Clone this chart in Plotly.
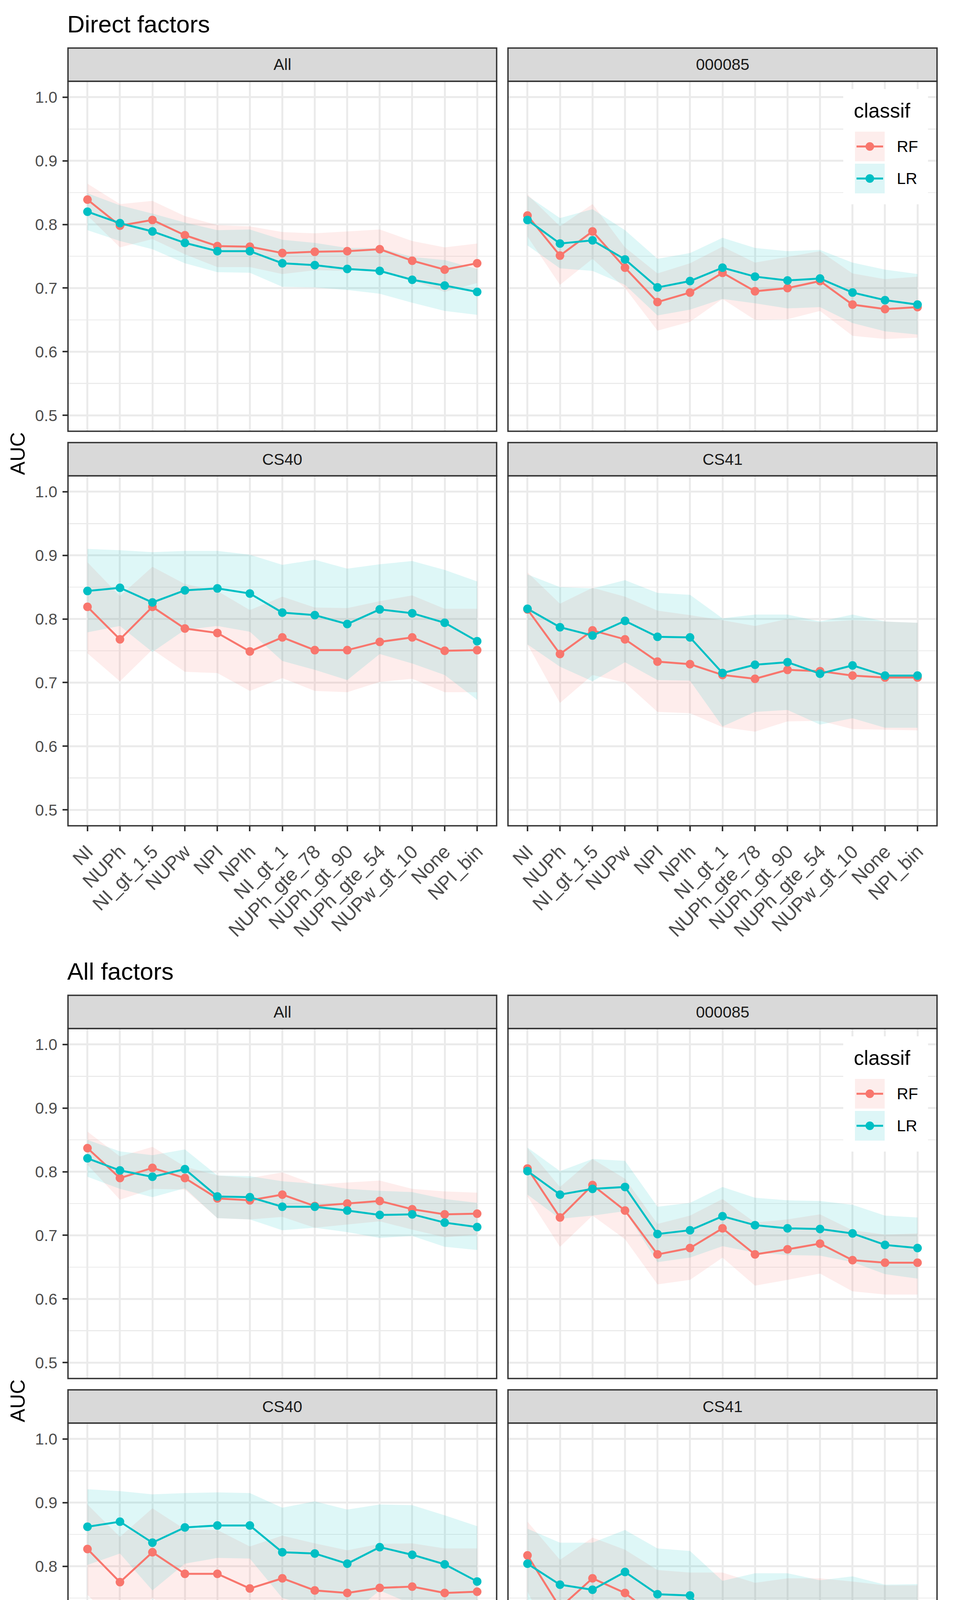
import plotly.graph_objects as go

W, H = 2444, 4858

categories = ["NI", "NUPh", "NI_gt_1.5", "NUPw", "NPI", "NPIh", "NI_gt_1",
              "NUPh_gte_78", "NUPh_gt_90", "NUPh_gte_54", "NUPw_gt_10", "None", "NPI_bin"]
classifiers = ["RF", "LR"]
facets = ["All", "000085", "CS40", "CS41"]
plot_titles = ["Direct factors", "All factors"]
y_ticks = [0.5, 0.6, 0.7, 0.8, 0.9, 1.0]
y_tick_labels = ["0.5", "0.6", "0.7", "0.8", "0.9", "1.0"]
y_minor = [0.55, 0.65, 0.75, 0.85, 0.95]

# ---------------- Direct factors ----------------
direct_all_rf    = [0.839, 0.798, 0.807, 0.783, 0.766, 0.765, 0.755, 0.757, 0.758, 0.761, 0.743, 0.729, 0.739]
direct_all_rf_hi = [0.864, 0.832, 0.837, 0.813, 0.799, 0.797, 0.788, 0.786, 0.789, 0.792, 0.774, 0.764, 0.770]
direct_all_rf_lo = [0.814, 0.764, 0.777, 0.753, 0.733, 0.733, 0.722, 0.728, 0.727, 0.730, 0.712, 0.694, 0.708]
direct_all_lr    = [0.820, 0.802, 0.789, 0.771, 0.758, 0.758, 0.739, 0.736, 0.730, 0.727, 0.713, 0.704, 0.694]
direct_all_lr_hi = [0.849, 0.830, 0.817, 0.803, 0.791, 0.792, 0.776, 0.771, 0.763, 0.763, 0.749, 0.744, 0.730]
direct_all_lr_lo = [0.791, 0.774, 0.761, 0.739, 0.725, 0.724, 0.702, 0.701, 0.697, 0.691, 0.677, 0.664, 0.658]

direct_085_rf    = [0.814, 0.751, 0.789, 0.732, 0.678, 0.693, 0.724, 0.695, 0.700, 0.711, 0.674, 0.667, 0.670]
direct_085_rf_hi = [0.847, 0.797, 0.832, 0.764, 0.723, 0.739, 0.765, 0.740, 0.749, 0.758, 0.723, 0.714, 0.718]
direct_085_rf_lo = [0.781, 0.705, 0.746, 0.700, 0.633, 0.647, 0.683, 0.650, 0.651, 0.664, 0.625, 0.620, 0.622]
direct_085_lr    = [0.807, 0.770, 0.775, 0.745, 0.701, 0.711, 0.732, 0.718, 0.712, 0.715, 0.693, 0.681, 0.674]
direct_085_lr_hi = [0.845, 0.810, 0.824, 0.791, 0.746, 0.755, 0.779, 0.763, 0.758, 0.760, 0.740, 0.729, 0.722]
direct_085_lr_lo = [0.767, 0.731, 0.727, 0.705, 0.657, 0.666, 0.683, 0.676, 0.668, 0.670, 0.645, 0.632, 0.627]

direct_cs40_rf    = [0.819, 0.768, 0.819, 0.785, 0.778, 0.749, 0.771, 0.751, 0.751, 0.764, 0.771, 0.750, 0.751]
direct_cs40_rf_hi = [0.889, 0.836, 0.882, 0.855, 0.844, 0.814, 0.835, 0.818, 0.817, 0.828, 0.837, 0.816, 0.816]
direct_cs40_rf_lo = [0.746, 0.702, 0.752, 0.717, 0.715, 0.687, 0.707, 0.687, 0.685, 0.701, 0.706, 0.685, 0.685]
direct_cs40_lr    = [0.844, 0.849, 0.826, 0.845, 0.848, 0.840, 0.810, 0.806, 0.792, 0.815, 0.809, 0.794, 0.765]
direct_cs40_lr_hi = [0.910, 0.908, 0.905, 0.907, 0.907, 0.901, 0.885, 0.893, 0.879, 0.886, 0.891, 0.877, 0.859]
direct_cs40_lr_lo = [0.779, 0.789, 0.748, 0.783, 0.789, 0.780, 0.734, 0.720, 0.704, 0.745, 0.730, 0.712, 0.673]

direct_cs41_rf    = [0.815, 0.745, 0.782, 0.768, 0.733, 0.729, 0.712, 0.706, 0.720, 0.718, 0.711, 0.708, 0.708]
direct_cs41_rf_hi = [0.873, 0.824, 0.849, 0.835, 0.813, 0.806, 0.798, 0.789, 0.800, 0.795, 0.798, 0.796, 0.794]
direct_cs41_rf_lo = [0.760, 0.668, 0.712, 0.700, 0.654, 0.652, 0.630, 0.623, 0.639, 0.640, 0.627, 0.626, 0.625]
direct_cs41_lr    = [0.816, 0.787, 0.774, 0.797, 0.772, 0.771, 0.715, 0.728, 0.732, 0.714, 0.727, 0.711, 0.711]
direct_cs41_lr_hi = [0.870, 0.850, 0.848, 0.861, 0.841, 0.838, 0.801, 0.807, 0.807, 0.796, 0.807, 0.796, 0.794]
direct_cs41_lr_lo = [0.760, 0.725, 0.702, 0.732, 0.704, 0.703, 0.631, 0.654, 0.657, 0.634, 0.644, 0.629, 0.629]

# ---------------- All factors ----------------
allf_all_rf    = [0.837, 0.790, 0.806, 0.790, 0.758, 0.755, 0.764, 0.746, 0.750, 0.754, 0.741, 0.733, 0.734]
allf_all_rf_hi = [0.863, 0.824, 0.839, 0.808, 0.794, 0.790, 0.799, 0.780, 0.783, 0.786, 0.773, 0.769, 0.767]
allf_all_rf_lo = [0.811, 0.756, 0.773, 0.772, 0.727, 0.725, 0.729, 0.712, 0.717, 0.722, 0.709, 0.697, 0.701]
allf_all_lr    = [0.821, 0.802, 0.792, 0.804, 0.761, 0.760, 0.745, 0.745, 0.739, 0.732, 0.733, 0.720, 0.713]
allf_all_lr_hi = [0.850, 0.832, 0.826, 0.835, 0.794, 0.793, 0.785, 0.781, 0.773, 0.770, 0.768, 0.757, 0.751]
allf_all_lr_lo = [0.792, 0.773, 0.760, 0.774, 0.727, 0.725, 0.708, 0.712, 0.705, 0.696, 0.699, 0.682, 0.677]

allf_085_rf    = [0.805, 0.728, 0.779, 0.739, 0.670, 0.680, 0.711, 0.670, 0.678, 0.687, 0.661, 0.657, 0.657]
allf_085_rf_hi = [0.837, 0.776, 0.820, 0.789, 0.718, 0.731, 0.757, 0.720, 0.725, 0.733, 0.708, 0.701, 0.703]
allf_085_rf_lo = [0.761, 0.682, 0.731, 0.694, 0.623, 0.630, 0.665, 0.621, 0.630, 0.640, 0.612, 0.607, 0.607]
allf_085_lr    = [0.801, 0.764, 0.773, 0.776, 0.702, 0.708, 0.730, 0.716, 0.711, 0.710, 0.703, 0.685, 0.680]
allf_085_lr_hi = [0.838, 0.801, 0.820, 0.817, 0.745, 0.751, 0.776, 0.759, 0.755, 0.754, 0.748, 0.731, 0.728]
allf_085_lr_lo = [0.764, 0.726, 0.731, 0.738, 0.658, 0.665, 0.683, 0.673, 0.669, 0.668, 0.658, 0.639, 0.632]

allf_cs40_rf    = [0.827, 0.775, 0.822, 0.788, 0.788, 0.765, 0.781, 0.762, 0.758, 0.766, 0.768, 0.758, 0.760]
allf_cs40_rf_hi = [0.897, 0.846, 0.891, 0.858, 0.857, 0.831, 0.848, 0.836, 0.825, 0.835, 0.836, 0.828, 0.828]
allf_cs40_rf_lo = [0.755, 0.704, 0.750, 0.718, 0.720, 0.699, 0.713, 0.692, 0.692, 0.700, 0.701, 0.690, 0.690]
allf_cs40_lr    = [0.862, 0.870, 0.837, 0.861, 0.864, 0.864, 0.822, 0.820, 0.804, 0.830, 0.818, 0.803, 0.776]
allf_cs40_lr_hi = [0.921, 0.918, 0.913, 0.915, 0.916, 0.915, 0.892, 0.902, 0.889, 0.897, 0.896, 0.880, 0.863]
allf_cs40_lr_lo = [0.802, 0.820, 0.762, 0.804, 0.813, 0.812, 0.750, 0.736, 0.720, 0.762, 0.740, 0.726, 0.687]

allf_cs41_rf    = [0.817, 0.735, 0.781, 0.758, 0.718, 0.710, 0.708, 0.691, 0.698, 0.702, 0.693, 0.687, 0.691]
allf_cs41_rf_hi = [0.870, 0.810, 0.845, 0.826, 0.794, 0.790, 0.790, 0.774, 0.781, 0.781, 0.776, 0.770, 0.770]
allf_cs41_rf_lo = [0.760, 0.661, 0.714, 0.691, 0.640, 0.633, 0.625, 0.608, 0.619, 0.624, 0.613, 0.602, 0.602]
allf_cs41_lr    = [0.804, 0.771, 0.763, 0.791, 0.756, 0.754, 0.688, 0.708, 0.714, 0.692, 0.702, 0.687, 0.687]
allf_cs41_lr_hi = [0.859, 0.837, 0.837, 0.857, 0.828, 0.824, 0.777, 0.789, 0.789, 0.778, 0.784, 0.771, 0.772]
allf_cs41_lr_lo = [0.748, 0.703, 0.689, 0.723, 0.683, 0.682, 0.600, 0.627, 0.639, 0.610, 0.621, 0.602, 0.610]

panel_data = [
    [  # Direct factors
        (direct_all_rf, direct_all_rf_lo, direct_all_rf_hi, direct_all_lr, direct_all_lr_lo, direct_all_lr_hi),
        (direct_085_rf, direct_085_rf_lo, direct_085_rf_hi, direct_085_lr, direct_085_lr_lo, direct_085_lr_hi),
        (direct_cs40_rf, direct_cs40_rf_lo, direct_cs40_rf_hi, direct_cs40_lr, direct_cs40_lr_lo, direct_cs40_lr_hi),
        (direct_cs41_rf, direct_cs41_rf_lo, direct_cs41_rf_hi, direct_cs41_lr, direct_cs41_lr_lo, direct_cs41_lr_hi),
    ],
    [  # All factors
        (allf_all_rf, allf_all_rf_lo, allf_all_rf_hi, allf_all_lr, allf_all_lr_lo, allf_all_lr_hi),
        (allf_085_rf, allf_085_rf_lo, allf_085_rf_hi, allf_085_lr, allf_085_lr_lo, allf_085_lr_hi),
        (allf_cs40_rf, allf_cs40_rf_lo, allf_cs40_rf_hi, allf_cs40_lr, allf_cs40_lr_lo, allf_cs40_lr_hi),
        (allf_cs41_rf, allf_cs41_rf_lo, allf_cs41_rf_hi, allf_cs41_lr, allf_cs41_lr_lo, allf_cs41_lr_hi),
    ],
]

# ---------------- styling ----------------
FONT = "Liberation Sans, Arial, Helvetica, sans-serif"
COL = {"RF": "#F8766D", "LR": "#00BFC4"}
FILL = {"RF": "rgba(248,118,109,0.13)", "LR": "rgba(0,191,196,0.13)"}
KEYFILL = {"RF": "#FDEDEC", "LR": "#DDF6F7"}
GRID = "#EBEBEB"
DARK = "#333333"

col_px = [(174, 1271), (1300, 2398)]
row_px = [(208, 1104), (1218, 2114)]
plot_offset = [0, 2425]
STRIP_H = 85


def fx(x):
    return x / W


def fy(y):
    return 1 - y / H


fig = go.Figure()
layout = {}
shapes = []
annotations = []

n = 0
for p in range(2):
    off = plot_offset[p]
    for k, facet in enumerate(facets):
        n += 1
        row, col = k // 2, k % 2
        x0, x1 = col_px[col]
        y0, y1 = row_px[row][0] + off, row_px[row][1] + off
        xs = "" if n == 1 else str(n)
        layout["xaxis" + xs] = dict(
            domain=[fx(x0), fx(x1)], anchor="y" + xs, type="category",
            categoryorder="array", categoryarray=categories, range=[-0.6, 12.6],
            showgrid=True, gridcolor=GRID, gridwidth=5, zeroline=False, showline=False,
            ticks="outside" if row == 1 else "", ticklen=13, tickwidth=4, tickcolor=DARK,
            showticklabels=(row == 1), tickangle=-45, ticklabelstandoff=4,
            tickfont=dict(family=FONT, size=49, color="#4D4D4D"),
            fixedrange=True,
        )
        layout["yaxis" + xs] = dict(
            domain=[fy(y1), fy(y0)], anchor="x" + xs, range=[0.475, 1.025],
            tickmode="array", tickvals=y_ticks, ticktext=y_tick_labels,
            showgrid=True, gridcolor=GRID, gridwidth=5, zeroline=False, showline=False,
            minor=dict(tickmode="array", tickvals=y_minor, showgrid=True,
                       gridcolor=GRID, gridwidth=2.7, ticks=""),
            ticks="outside" if col == 0 else "", ticklen=13, tickwidth=4, tickcolor=DARK,
            showticklabels=(col == 0), ticklabelstandoff=5,
            tickfont=dict(family=FONT, size=41, color="#4D4D4D"),
            fixedrange=True,
        )
        rf, rf_lo, rf_hi, lr, lr_lo, lr_hi = panel_data[p][k]
        series = {"RF": (rf, rf_lo, rf_hi), "LR": (lr, lr_lo, lr_hi)}
        xa, ya = "x" + xs, "y" + xs
        # ribbons
        for c in classifiers:
            m, lo, hi = series[c]
            fig.add_trace(go.Scatter(
                x=categories + categories[::-1], y=hi + lo[::-1],
                fill="toself", fillcolor=FILL[c], mode="lines",
                line=dict(width=0, color="rgba(0,0,0,0)"),
                hoverinfo="skip", showlegend=False, xaxis=xa, yaxis=ya))
        # lines
        for c in classifiers:
            m = series[c][0]
            fig.add_trace(go.Scatter(
                x=categories, y=m, mode="lines", line=dict(color=COL[c], width=5),
                name=c, showlegend=False, xaxis=xa, yaxis=ya))
        # points
        for c in classifiers:
            m = series[c][0]
            fig.add_trace(go.Scatter(
                x=categories, y=m, mode="markers",
                marker=dict(color=COL[c], size=22, line=dict(width=0)),
                name=c, showlegend=False, xaxis=xa, yaxis=ya))

        # panel border
        shapes.append(dict(type="rect", xref="paper", yref="paper",
                           x0=fx(x0), x1=fx(x1), y0=fy(y1), y1=fy(y0),
                           line=dict(color=DARK, width=3.5), fillcolor="rgba(0,0,0,0)",
                           layer="above"))
        # strip
        shapes.append(dict(type="rect", xref="paper", yref="paper",
                           x0=fx(x0), x1=fx(x1), y0=fy(y0), y1=fy(y0 - STRIP_H),
                           line=dict(color=DARK, width=3.5), fillcolor="#D9D9D9",
                           layer="above"))
        annotations.append(dict(xref="paper", yref="paper", x=fx((x0 + x1) / 2),
                                y=fy(y0 - STRIP_H / 2), text=facet, showarrow=False,
                                xanchor="center", yanchor="middle",
                                font=dict(family=FONT, size=41, color="#1A1A1A")))

    # title
    annotations.append(dict(xref="paper", yref="paper", x=fx(170), y=fy(61 + off),
                            text=plot_titles[p], showarrow=False, xanchor="left",
                            yanchor="middle", font=dict(family=FONT, size=62, color="black")))
    # y axis title
    annotations.append(dict(xref="paper", yref="paper", x=fx(45), y=fy(1161 + off),
                            text="AUC", showarrow=False, textangle=-90,
                            xanchor="center", yanchor="middle",
                            font=dict(family=FONT, size=52, color="black")))
    # legend (inside 000085 panel)
    shapes.append(dict(type="rect", xref="paper", yref="paper",
                       x0=fx(2158), x1=fx(2375), y0=fy(523 + off), y1=fy(228 + off),
                       line=dict(width=0), fillcolor="white", layer="above"))
    annotations.append(dict(xref="paper", yref="paper", x=fx(2183), y=fy(283 + off),
                            text="classif", showarrow=False, xanchor="left",
                            yanchor="middle", font=dict(family=FONT, size=52, color="black")))
    for i, c in enumerate(classifiers):
        ky0 = 337 + 82 * i + off
        ky1 = ky0 + 76
        kc = (ky0 + ky1) / 2
        shapes.append(dict(type="rect", xref="paper", yref="paper",
                           x0=fx(2188), x1=fx(2264), y0=fy(ky1), y1=fy(ky0),
                           line=dict(width=0), fillcolor=KEYFILL[c], layer="above"))
        shapes.append(dict(type="line", xref="paper", yref="paper",
                           x0=fx(2192), x1=fx(2260), y0=fy(kc), y1=fy(kc),
                           line=dict(color=COL[c], width=5), layer="above"))
        shapes.append(dict(type="circle", xref="paper", yref="paper",
                           x0=fx(2226 - 11), x1=fx(2226 + 11), y0=fy(kc + 11), y1=fy(kc - 11),
                           line=dict(width=0), fillcolor=COL[c], layer="above"))
        annotations.append(dict(xref="paper", yref="paper", x=fx(2293), y=fy(kc),
                                text=c, showarrow=False, xanchor="left", yanchor="middle",
                                font=dict(family=FONT, size=41, color="black")))

fig.update_layout(**layout)
fig.update_layout(
    width=W, height=H, autosize=False,
    margin=dict(l=0, r=0, t=0, b=0),
    paper_bgcolor="white", plot_bgcolor="white",
    showlegend=False, shapes=shapes, annotations=annotations,
    font=dict(family=FONT), hovermode=False,
)
fig.write_html("out.html",
               config={"displayModeBar": False, "staticPlot": True},
               post_script="document.body.style.margin='0px';")
